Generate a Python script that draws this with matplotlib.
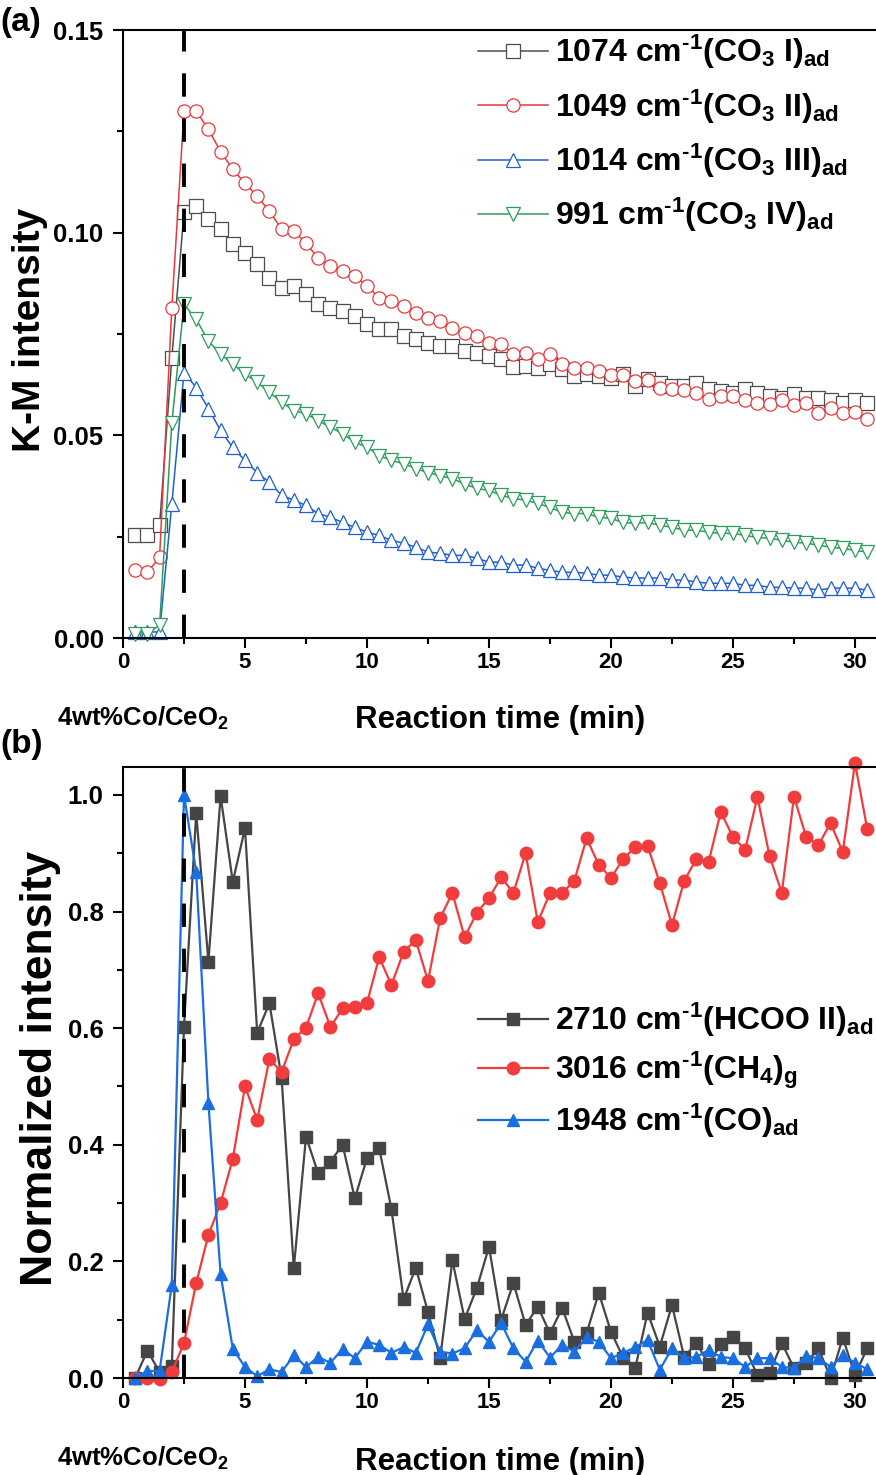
import matplotlib
matplotlib.use('Agg')
import matplotlib.pyplot as plt
from matplotlib.ticker import MultipleLocator
import numpy as np

plt.rcParams['font.family'] = ['Liberation Sans', 'DejaVu Sans']
plt.rcParams['font.weight'] = 'bold'
plt.rcParams['mathtext.fontset'] = 'custom'
plt.rcParams['mathtext.rm'] = 'Liberation Sans:bold'
plt.rcParams['mathtext.it'] = 'Liberation Sans:bold'
plt.rcParams['mathtext.bf'] = 'Liberation Sans:bold'
plt.rcParams['mathtext.default'] = 'rm'
plt.rcParams['axes.linewidth'] = 1.5

# reaction time, one spectrum every 0.5 min
time = np.arange(0.5, 30.51, 0.5)

# (a) K-M intensity of carbonate bands
co3_1 = [0.0253, 0.0253, 0.0278, 0.069, 0.105, 0.1065, 0.1033, 0.1009, 0.0972, 0.095,
         0.0923, 0.0888, 0.0864, 0.0869, 0.0849, 0.0824, 0.0814, 0.0807, 0.0795, 0.0775,
         0.0763, 0.0763, 0.0745, 0.0738, 0.0728, 0.072, 0.072, 0.0708, 0.0704, 0.0696,
         0.0689, 0.0669, 0.0672, 0.0667, 0.0677, 0.0664, 0.0647, 0.0652, 0.0647, 0.0642,
         0.0652, 0.0622, 0.064, 0.063, 0.0622, 0.0622, 0.063, 0.0615, 0.061, 0.0605,
         0.0615, 0.0605, 0.0598, 0.0593, 0.0603, 0.0593, 0.0593, 0.0586, 0.0581, 0.0586,
         0.0581]
co3_2 = [0.0167, 0.0162, 0.0199, 0.0814, 0.130, 0.130, 0.1255, 0.120, 0.1156, 0.1122,
         0.109, 0.1053, 0.1009, 0.1004, 0.0974, 0.0937, 0.0918, 0.0905, 0.0893, 0.0869,
         0.0839, 0.0831, 0.0819, 0.0802, 0.079, 0.0782, 0.0765, 0.0753, 0.0745, 0.0728,
         0.0726, 0.0701, 0.0704, 0.0689, 0.0701, 0.0677, 0.0667, 0.0667, 0.0659, 0.0649,
         0.0649, 0.0635, 0.0637, 0.0617, 0.0615, 0.0613, 0.0605, 0.059, 0.0598, 0.0598,
         0.0586, 0.0581, 0.0578, 0.0586, 0.0576, 0.0581, 0.0556, 0.0568, 0.0554, 0.0558,
         0.0541]
co3_3 = [0.0015, 0.0015, 0.0015, 0.033, 0.0655, 0.0618, 0.0566, 0.0512, 0.047, 0.0438,
         0.0408, 0.0384, 0.0352, 0.034, 0.0327, 0.0307, 0.0298, 0.0285, 0.0273, 0.0261,
         0.0253, 0.0241, 0.0234, 0.0224, 0.0212, 0.0209, 0.0204, 0.0204, 0.0197, 0.0187,
         0.0187, 0.018, 0.018, 0.0172, 0.0167, 0.0162, 0.0162, 0.016, 0.0155, 0.0155,
         0.015, 0.0148, 0.0148, 0.0148, 0.0143, 0.0143, 0.0138, 0.0135, 0.0135, 0.0135,
         0.013, 0.013, 0.0125, 0.0125, 0.0123, 0.0123, 0.0118, 0.0123, 0.0123, 0.0123,
         0.0118]
co3_4 = [0.001, 0.001, 0.0032, 0.053, 0.0824, 0.0786, 0.0733, 0.070, 0.0676, 0.0651,
         0.0631, 0.0606, 0.0582, 0.0561, 0.0553, 0.0536, 0.052, 0.0504, 0.0483, 0.0471,
         0.045, 0.0438, 0.043, 0.0418, 0.0408, 0.040, 0.0393, 0.038, 0.0369, 0.0364,
         0.0352, 0.0344, 0.034, 0.0332, 0.0322, 0.031, 0.0307, 0.0307, 0.0298, 0.0295,
         0.0285, 0.0283, 0.0285, 0.0278, 0.0273, 0.0266, 0.0266, 0.0261, 0.0258, 0.0258,
         0.0253, 0.0248, 0.0246, 0.0241, 0.0236, 0.0234, 0.0229, 0.0224, 0.0221, 0.0216,
         0.0212]

# (b) normalized intensity
hcoo = [0.0, 0.047, 0.01, 0.02, 0.602, 0.969, 0.714, 0.998, 0.851, 0.943,
        0.592, 0.643, 0.515, 0.188, 0.414, 0.351, 0.371, 0.4, 0.308, 0.377,
        0.394, 0.29, 0.135, 0.189, 0.113, 0.034, 0.202, 0.101, 0.154, 0.225,
        0.1, 0.163, 0.091, 0.122, 0.077, 0.12, 0.062, 0.077, 0.146, 0.079,
        0.035, 0.018, 0.112, 0.054, 0.125, 0.036, 0.06, 0.024, 0.058, 0.07,
        0.051, 0.005, 0.009, 0.06, 0.017, 0.026, 0.051, 0.0, 0.069, 0.005,
        0.051]
ch4 = [0.0, 0.0, -0.002, 0.01, 0.06, 0.163, 0.245, 0.3, 0.376, 0.5,
       0.443, 0.547, 0.525, 0.581, 0.601, 0.66, 0.602, 0.634, 0.637, 0.643,
       0.722, 0.674, 0.731, 0.751, 0.681, 0.789, 0.832, 0.756, 0.798, 0.823,
       0.859, 0.832, 0.9, 0.782, 0.832, 0.832, 0.853, 0.926, 0.88, 0.858,
       0.89, 0.911, 0.913, 0.849, 0.777, 0.853, 0.89, 0.885, 0.971, 0.928,
       0.906, 0.997, 0.895, 0.832, 0.997, 0.928, 0.914, 0.952, 0.902, 1.055,
       0.942]
co = [0.0, 0.012, 0.012, 0.16, 1.0, 0.868, 0.472, 0.178, 0.05, 0.019,
      0.003, 0.015, 0.01, 0.039, 0.019, 0.036, 0.026, 0.05, 0.034, 0.062,
      0.057, 0.043, 0.053, 0.043, 0.092, 0.045, 0.042, 0.051, 0.082, 0.062,
      0.094, 0.051, 0.028, 0.064, 0.035, 0.057, 0.045, 0.07, 0.062, 0.034,
      0.043, 0.053, 0.065, 0.014, 0.051, 0.034, 0.036, 0.048, 0.036, 0.034,
      0.019, 0.034, 0.034, 0.019, 0.017, 0.038, 0.034, 0.019, 0.039, 0.026,
      0.015]

labels_a = [r'1074 cm$^{‐1}$(CO$_3$ I)$_{ad}$', r'1049 cm$^{‐1}$(CO$_3$ II)$_{ad}$',
            r'1014 cm$^{‐1}$(CO$_3$ III)$_{ad}$', r'991 cm$^{‐1}$(CO$_3$ IV)$_{ad}$']
labels_b = [r'2710 cm$^{‐1}$(HCOO II)$_{ad}$', r'3016 cm$^{‐1}$(CH$_4$)$_g$',
            r'1948 cm$^{‐1}$(CO)$_{ad}$']

W, H = 876, 1475
fig = plt.figure(figsize=(W / 100, H / 100), dpi=100)
ax1 = fig.add_axes([123 / W, 1 - 638 / H, 1 - 123 / W, (638 - 30) / H])
ax2 = fig.add_axes([123 / W, 1 - 1378 / H, 1 - 123 / W, (1378 - 767) / H])

# top panel: hollow markers
for y, c, m, lab in zip([co3_1, co3_2, co3_3, co3_4],
                        ['#4d4d4d', '#e8393c', '#1f5fd0', '#2e9c5c'],
                        ['s', 'o', '^', 'v'], labels_a):
    ax1.plot(time, y, color=c, lw=1.1, marker=m, ms=9.5, mfc='white',
             mec=c, mew=0.9, label=lab, clip_on=False)

# bottom panel: filled markers
for y, c, m, lab in zip([hcoo, ch4, co],
                        ['#454545', '#f03c3c', '#1a6ee0'],
                        ['s', 'o', '^'], labels_b):
    ax2.plot(time, y, color=c, lw=1.6, marker=m, ms=9, mec=c, label=lab,
             clip_on=False)

ax1.plot([2.5, 2.5], [0, 0.15], color='black', lw=2.8, ls=(0, (6, 5.6)), zorder=5)
ax2.plot([2.5, 2.5], [0, 1.062], color='black', lw=2.8, ls=(0, (6, 5.6)),
         zorder=5, clip_on=False)

ax1.set_ylim(0, 0.15)
ax1.yaxis.set_major_locator(MultipleLocator(0.05))
ax1.yaxis.set_minor_locator(MultipleLocator(0.025))
ax1.yaxis.set_major_formatter(plt.FuncFormatter(lambda v, p: f'{v:.2f}'))

ax2.set_ylim(0, 1.048)
ax2.yaxis.set_major_locator(MultipleLocator(0.2))
ax2.yaxis.set_minor_locator(MultipleLocator(0.1))
ax2.yaxis.set_major_formatter(plt.FuncFormatter(lambda v, p: f'{v:.1f}'))

for ax in [ax1, ax2]:
    ax.set_xlim(0, (W - 123) / 24.4)
    ax.xaxis.set_major_locator(MultipleLocator(5))
    ax.xaxis.set_minor_locator(MultipleLocator(2.5))
    ax.spines['right'].set_visible(False)
    ax.tick_params(which='major', direction='out', length=7, width=1.5)
    ax.tick_params(which='minor', direction='out', length=4, width=1.5)
    ax.tick_params(axis='x', labelsize=16, pad=3)
    ax.tick_params(axis='y', labelsize=18.5, pad=7)
    for t in ax.get_xticklabels() + ax.get_yticklabels():
        t.set_fontweight('bold')

leg1 = ax1.legend(loc='upper left', bbox_to_anchor=(478 / W, 1 - 33 / H),
                  bbox_transform=fig.transFigure, frameon=False, fontsize=23,
                  handlelength=2.2, handletextpad=0.2, labelspacing=0.5,
                  borderpad=0, borderaxespad=0)
leg2 = ax2.legend(loc='upper left', bbox_to_anchor=(478 / W, 1 - 1001 / H),
                  bbox_transform=fig.transFigure, frameon=False, fontsize=23,
                  handlelength=2.2, handletextpad=0.2, labelspacing=0.33,
                  borderpad=0, borderaxespad=0)

fig.text(30 / W, 1 - 330 / H, 'K-M intensity', rotation=90, ha='center',
         va='center', fontsize=28, fontweight='bold')
fig.text(41 / W, 1 - 1068 / H, 'Normalized intensity', rotation=90,
         ha='center', va='center', fontsize=32, fontweight='bold')

for yc, yl, tag, ytag in [(718, 720, '(a)', 22), (1458, 1462, '(b)', 745)]:
    fig.text(143 / W, 1 - yc / H, r'4wt%Co/CeO$_2$', ha='center', va='center',
             fontsize=18.5, fontweight='bold')
    fig.text(500 / W, 1 - yl / H, 'Reaction time (min)', ha='center',
             va='center', fontsize=22.5, fontweight='bold')
    fig.text(0, 1 - ytag / H, tag, ha='left', va='center', fontsize=24,
             fontweight='bold')

fig.savefig('out.png', dpi=100)
